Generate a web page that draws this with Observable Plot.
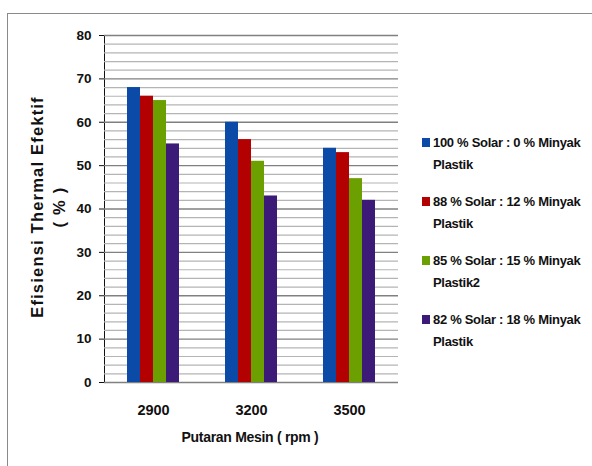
<!DOCTYPE html>
<html>
<head>
<meta charset="utf-8">
<script src="https://cdn.jsdelivr.net/npm/d3@7"></script>
<script src="https://cdn.jsdelivr.net/npm/@observablehq/plot@0.6"></script>
<style>
  html, body { margin: 0; padding: 0; background: #fff; }
  #wrap { position: relative; width: 592px; height: 466px; overflow: hidden; background: #fff; }
  #border { position: absolute; left: 7px; top: 13px; width: 700px; height: 600px; border: 1.5px solid #8a8a8a; box-sizing: border-box; }
  #chart { position: absolute; left: 0; top: 0; }
  #chart [aria-label^="fx-axis"] text { font-size: 14.5px; }
  .lbl { position: absolute; font-family: "Liberation Sans", Arial, sans-serif; font-weight: bold; color: #111; white-space: nowrap; }
  #legend { position: absolute; left: 422px; top: 132px; font-family: "Liberation Sans", Arial, sans-serif; font-weight: bold; font-size: 13px; letter-spacing: -0.3px; color: #111; }
  .item { position: relative; padding-left: 11px; line-height: 22px; white-space: pre; margin-bottom: 15px; }
  .sw { position: absolute; left: 0; top: 6px; width: 8px; height: 9px; }
</style>
</head>
<body>
<div id="wrap">
  <div id="border"></div>
  <div id="chart"></div>
  <div id="legend"></div>
</div>
<script>
const rpm = ["2900", "3200", "3500"];
const series = [
  "100 % Solar : 0 % Minyak\nPlastik",
  "88 % Solar : 12 % Minyak\nPlastik",
  "85 % Solar : 15 % Minyak\nPlastik2",
  "82 % Solar : 18 % Minyak\nPlastik"
];
const solar100 = [68, 60, 54];
const solar88 = [66, 56, 53];
const solar85 = [65, 51, 47];
const solar82 = [55, 43, 42];
const colors = ["#0b4aa6", "#b30000", "#6ba000", "#3b1a78"];
const yTicks = [0, 10, 20, 30, 40, 50, 60, 70, 80];
const yMinor = [2, 4, 6, 8, 12, 14, 16, 18, 22, 24, 26, 28, 32, 34, 36, 38, 42, 44, 46, 48, 52, 54, 56, 58, 62, 64, 66, 68, 72, 74, 76, 78];
const yTitle = ["Efisiensi Thermal Efektif", "( % )"];
const xTitle = "Putaran Mesin ( rpm )";

const valuesBySeries = [solar100, solar88, solar85, solar82];
const rows = [];
rpm.forEach((r, i) => series.forEach((s, j) => rows.push({rpm: r, series: s, value: valuesBySeries[j][i]})));

const chart = Plot.plot({
  width: 592,
  height: 466,
  marginLeft: 103,
  marginRight: 194,
  marginTop: 35,
  marginBottom: 84,
  style: {fontFamily: "'Liberation Sans', Arial, sans-serif", fontSize: "13.5px", fontWeight: "bold", color: "#111", background: "transparent"},
  facet: {data: rows, x: "rpm"},
  fx: {domain: rpm, padding: 0, axis: "bottom", label: null, tickSize: 0, tickPadding: 22},
  x: {domain: series, axis: null, paddingInner: 0, paddingOuter: 1.57},
  y: {domain: [0, 80], ticks: yTicks, label: null, tickSize: 5, tickPadding: 8, line: true},
  color: {domain: series, range: colors},
  marks: [
    Plot.ruleY(yMinor, {stroke: "#b4b4b4", strokeWidth: 1.2}),
    Plot.ruleY(yTicks, {stroke: "#808080", strokeWidth: 1.4}),
    Plot.barY(rows, {x: "series", y: "value", fill: "series"})
  ]
});
document.getElementById("chart").appendChild(chart);

const wrap = document.getElementById("wrap");
function addLabel(text, css) {
  const d = document.createElement("div");
  d.className = "lbl";
  d.textContent = text;
  Object.assign(d.style, css);
  wrap.appendChild(d);
  return d;
}
// y title lines (rotated)
[[yTitle[0], 37], [yTitle[1], 59]].forEach(([t, cx]) => {
  const d = addLabel(t, {fontSize: "16.5px", left: cx + "px", top: "207px", lineHeight: "17px", letterSpacing: "1.2px"});
  d.style.transform = "translate(-50%, -50%) rotate(-90deg)";
});
const xt = addLabel(xTitle, {fontSize: "14px", left: "250px", top: "437px", lineHeight: "16px", letterSpacing: "-0.3px"});
xt.style.transform = "translate(-50%, -50%)";

const legend = document.getElementById("legend");
series.forEach((s, i) => {
  const it = document.createElement("div");
  it.className = "item";
  const sw = document.createElement("span");
  sw.className = "sw";
  sw.style.background = colors[i];
  it.appendChild(sw);
  it.appendChild(document.createTextNode(s));
  legend.appendChild(it);
});
</script>
</body>
</html>
